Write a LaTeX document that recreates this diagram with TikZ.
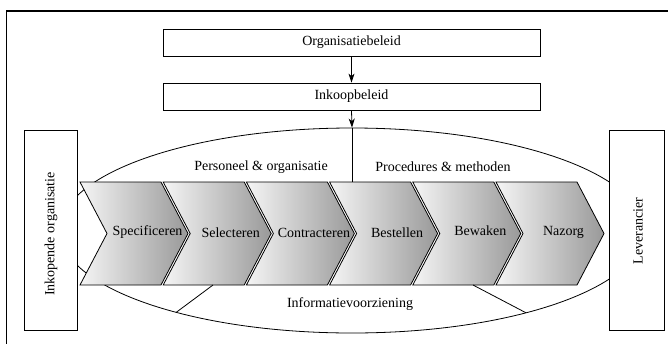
\documentclass[tikz,border=0pt]{standalone}
\usepackage{fontspec}
\setmainfont{Liberation Serif}
\usetikzlibrary{arrows.meta,shapes.geometric}
\begin{document}
\begin{tikzpicture}[x=1pt,y=-1pt,
  every node/.style={font=\fontsize{14}{16}\selectfont},
  box/.style={draw,line width=0.8pt,fill=white,inner sep=0pt,anchor=center},
  lbl/.style={inner sep=0pt,anchor=center},
  conn/.style={line width=0.8pt},
  arr/.style={line width=0.8pt,-{Stealth[length=9pt,width=6pt,inset=2.5pt]}},
  chev/.style={draw,line width=0.8pt,left color=black!4,right color=black!40}
]
\useasboundingbox (0,0) rectangle (668,343);
% outer frame (cut off at right and bottom)
\draw[line width=1.3pt] (672,11) -- (6.5,11) -- (6.5,347);
% ellipse
\node[ellipse,draw,line width=0.8pt,fill=white,minimum width=584pt,minimum height=205pt,inner sep=0pt] (ell) at (352,230.5) {};
% policy boxes
\node[box,minimum width=377pt,minimum height=27pt] (org) at (351.5,42.5) {Organisatiebeleid};
\node[box,minimum width=377pt,minimum height=27pt] (ink) at (351.5,96.5) {Inkoopbeleid};
% chevrons
\foreach \i/\t/\dy in {0/Specificeren/0,1/Selecteren/0,2/Contracteren/0,3/Bestellen/0,4/Bewaken/-2,5/Nazorg/0}{
  \pgfmathsetmacro{\xo}{80+83.2*\i}
  \path[chev] (\xo,182) -- ++(81,0) -- ++(27,51.5) -- ++(-27,51.5) -- ++(-81,0) -- ++(27,-51.5) -- cycle;
  \node[lbl] (c\i) at (\xo+67.5,232.5+\dy) {\t};
}
% side boxes
\node[box,minimum width=53pt,minimum height=200pt] (lbox) at (50.5,230) {};
\node[lbl,rotate=90] (lbl-l) at (51,234) {Inkopende organisatie};
\node[box,minimum width=55pt,minimum height=200pt] (rbox) at (636.5,230) {};
\node[lbl,rotate=90] (lbl-r) at (638,231) {Leverancier};
% texts in ellipse
\node[lbl] (pers) at (261,167) {Personeel \& organisatie};
\node[lbl] (proc) at (443,167) {Procedures \& methoden};
\node[lbl] (info) at (350,304) {Informatievoorziening};
% connectors
\coordinate (ctop) at (352,182);
\coordinate (bl1) at (213,285);
\coordinate (bl2) at (176,312.5);
\coordinate (br1) at (473,285);
\coordinate (br2) at (526,312.8);
\draw[arr] (org.south) -- (ink.north);
\draw[arr] (ink.south) -- (ell.north);
\draw[conn] (ell.north) -- (ctop);
\draw[conn] (bl1) -- (bl2);
\draw[conn] (br1) -- (br2);
\end{tikzpicture}
\end{document}
